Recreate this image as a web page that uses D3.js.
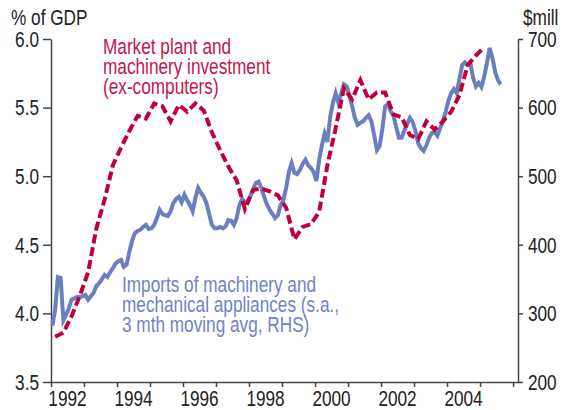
<!DOCTYPE html>
<html>
<head>
<meta charset="utf-8">
<script src="https://cdn.jsdelivr.net/npm/d3@7"></script>
<style>
  body { margin: 0; background: #fff; }
  svg text { font-family: 'Liberation Sans', Arial, sans-serif; }
</style>
</head>
<body>
<svg id="chart" width="566" height="410"></svg>
<script>
const yearTicks = d3.range(1992, 2007)
const yearLabels = [1992, 1994, 1996, 1998, 2000, 2002, 2004]
const leftTicks = [3.5, 4.0, 4.5, 5.0, 5.5, 6.0]
const rightTicks = [200, 300, 400, 500, 600, 700]

// market plant & machinery investment, % of GDP, quarterly from 1992 Q1
const investStart = 1992
const investValues = [
  3.83, 3.86, 3.98, 4.13,
  4.30, 4.62, 4.83, 5.08,
  5.21, 5.33, 5.44, 5.42,
  5.53, 5.51, 5.40, 5.52,
  5.47, 5.53, 5.48, 5.32,
  5.19, 5.07, 4.97, 4.76,
  4.90, 4.91, 4.89, 4.86,
  4.77, 4.54, 4.63, 4.65,
  4.74, 5.08, 5.35, 5.64,
  5.56, 5.70, 5.56, 5.61,
  5.61, 5.45, 5.43, 5.30,
  5.27, 5.40, 5.34, 5.40,
  5.47, 5.59, 5.81, 5.88,
  5.94
]

// imports of machinery, $mill, 3 mth moving avg, monthly from Jan 1992
const importStart = 1992
const importValues = [
  282, 305, 353, 352, 290, 298, 308, 320, 322, 324, 324, 325,
  327, 320, 325, 330, 340, 344, 350, 356, 353, 360, 366, 373,
  376, 378, 368, 371, 390, 406, 417, 420, 422, 426, 429, 423,
  424, 429, 439, 451, 445, 443, 442, 449, 461, 467, 470, 462,
  473, 465, 458, 449, 468, 483, 476, 470, 461, 445, 429, 424,
  424, 426, 424, 427, 436, 435, 429, 439, 458, 467, 462, 464,
  471, 481, 490, 492, 483, 470, 459, 451, 445, 439, 443, 458,
  465, 483, 506, 519, 505, 503, 509, 518, 524, 516, 512, 506,
  493, 524, 545, 562, 550, 586, 607, 621, 607, 620, 634, 631,
  618, 602, 585, 575, 578, 580, 585, 589, 580, 560, 538, 544,
  570, 602, 605, 595, 588, 572, 556, 556, 567, 576, 585, 579,
  566, 548, 541, 537, 545, 556, 563, 564, 559, 570, 580, 594,
  610, 621, 627, 621, 642, 662, 666, 662, 664, 643, 631, 636,
  630, 645, 665, 687, 672, 652, 640, 634
]

const investLabel = ['Market plant and', 'machinery investment', '(ex-computers)']
const importLabel = ['Imports of machinery and', 'mechanical appliances (s.a.,', '3 mth moving avg, RHS)']

const red = '#c0003c'
const blue = '#6b7fc0'
const axisColor = '#444'
const fontSize = 22.5
const squeeze = 0.765 // no narrow face installed, so squash Liberation Sans
const lineGap = 20

const svg = d3.select('#chart')

const x = d3.scaleLinear().domain([1992, 2006.15]).range([51, 518])
const yL = d3.scaleLinear().domain([3.5, 6]).range([382, 39])
const yR = d3.scaleLinear().domain([200, 700]).range([382, 39])

const invest = investValues.map((v, i) => ({date: investStart + (i + 0.5) / 4, value: v}))
const imports = importValues.map((v, i) => ({date: importStart + (i + 0.5) / 12, value: v}))

function styleAxis (g, textX) {
  g.attr('font-size', fontSize)
    .attr('font-family', null)
    .attr('color', axisColor)
  g.selectAll('path, line').attr('stroke-width', 1.5)
  g.selectAll('text')
      .attr('fill', '#222')
      .attr('x', textX / squeeze)
      .attr('transform', `scale(${squeeze},1)`)
}

function label (g, px, py, str, color, anchor) {
  return g.append('text')
      .attr('transform', `translate(${px},${py}) scale(${squeeze},1)`)
      .attr('text-anchor', anchor || 'start')
      .attr('font-size', fontSize)
      .attr('fill', color)
      .text(str)
}

svg.append('g')
    .attr('transform', 'translate(51,0)')
    .call(d3.axisLeft(yL).tickValues(leftTicks).tickFormat(d3.format('.1f')).tickSize(8).tickSizeOuter(0))
    .call(styleAxis, -12)

svg.append('g')
    .attr('transform', 'translate(518,0)')
    .call(d3.axisRight(yR).tickValues(rightTicks).tickSize(5).tickSizeOuter(0))
    .call(styleAxis, 10)

svg.append('g')
    .attr('transform', 'translate(0,382)')
    .call(d3.axisBottom(x).tickValues(yearTicks).tickFormat('').tickSize(5).tickSizeOuter(0))
    .call(styleAxis, 0)

const xLabels = svg.append('g')
yearLabels.forEach(d => label(xLabels, x(d + 0.5), 406, d, '#222', 'middle'))

label(svg, 11, 25, '% of GDP', '#222')
label(svg, 523, 25, '$mill', '#222')

svg.append('path')
    .datum(imports)
    .attr('fill', 'none')
    .attr('stroke', blue)
    .attr('stroke-width', 4)
    .attr('d', d3.line().x(d => x(d.date)).y(d => yR(d.value)))

svg.append('path')
    .datum(invest)
    .attr('fill', 'none')
    .attr('stroke', red)
    .attr('stroke-width', 4)
    .attr('stroke-dasharray', '9,4')
    .attr('d', d3.line().x(d => x(d.date)).y(d => yL(d.value)))

const investText = svg.append('g')
investLabel.forEach((d, i) => label(investText, 103, 54 + i * lineGap, d, '#c4164b'))

const importText = svg.append('g')
importLabel.forEach((d, i) => label(importText, 122, 292 + i * lineGap, d, '#7083c4'))
</script>
</body>
</html>
